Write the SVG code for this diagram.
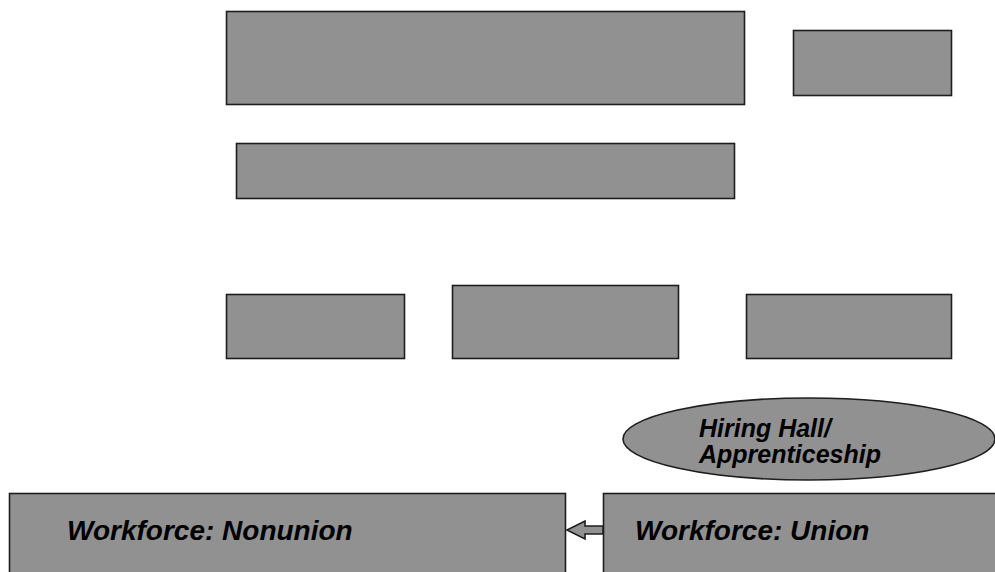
<svg xmlns="http://www.w3.org/2000/svg" width="995" height="572" viewBox="0 0 995 572">
  <style>
    .box { fill: #919191; stroke: #1e1e1e; stroke-width: 1.6; }
    .lbl { font-family: "Liberation Sans", Arial, sans-serif; font-weight: bold; font-style: italic; fill: #000; }
    .big { font-size: 28px; }
    .small { font-size: 25px; }
  </style>
  <rect width="995" height="572" fill="#fff"/>

  <g id="top-wide"><rect class="box" x="226.5" y="11.5" width="518" height="93"/></g>
  <g id="top-right"><rect class="box" x="793.5" y="30.5" width="158" height="65"/></g>
  <g id="second-row"><rect class="box" x="236.5" y="143.5" width="498" height="55"/></g>
  <g id="row-left"><rect class="box" x="226.5" y="294.5" width="178" height="64"/></g>
  <g id="row-middle"><rect class="box" x="452.5" y="285.5" width="226" height="73"/></g>
  <g id="row-right"><rect class="box" x="746.5" y="294.5" width="205" height="64"/></g>

  <g id="hiring-hall">
    <ellipse class="box" cx="809" cy="439" rx="186" ry="41"/>
    <text class="lbl small" x="699" y="437">Hiring Hall/</text>
    <text class="lbl small" x="699" y="463">Apprenticeship</text>
  </g>

  <g id="workforce-nonunion">
    <rect class="box" x="9.5" y="493.5" width="556" height="90"/>
    <text class="lbl big" x="67" y="540">Workforce: Nonunion</text>
  </g>

  <g id="workforce-union">
    <rect class="box" x="603.5" y="493.5" width="400" height="90"/>
    <text class="lbl big" x="635" y="540">Workforce: Union</text>
  </g>

  <g id="connectors">
    <path class="box" d="M603 526 L585 526 L585 521 L567 530 L585 539 L585 534 L603 534 Z" stroke-width="1.3"/>
  </g>
</svg>
